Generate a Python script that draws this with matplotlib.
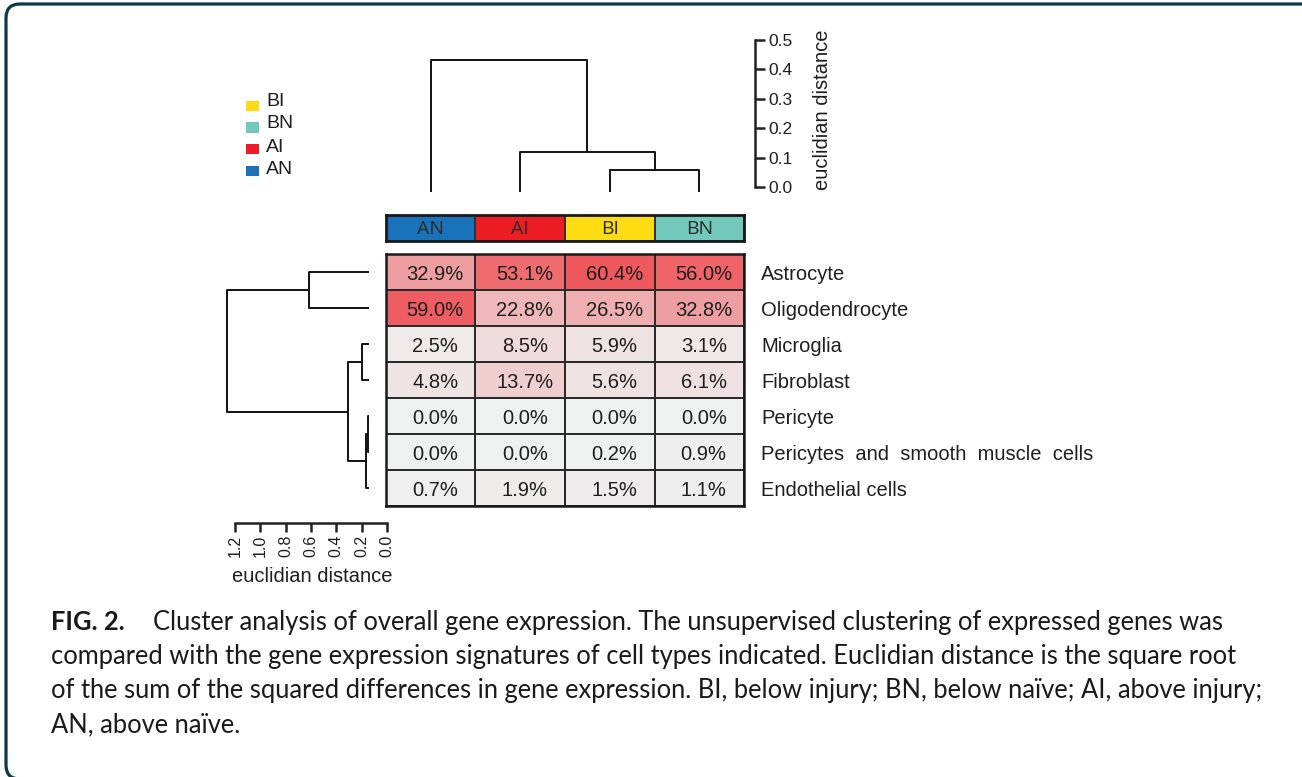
import numpy as np
import matplotlib
matplotlib.use('Agg')
import matplotlib.pyplot as plt
from matplotlib.colors import LinearSegmentedColormap, ListedColormap
from matplotlib.patches import Rectangle, FancyBboxPatch
from matplotlib.transforms import IdentityTransform

# ---------------- data ----------------
groups = ['AN', 'AI', 'BI', 'BN']
group_colors = ['#1a72ba', '#ec1d25', '#fddc14', '#72c9bb']
legend_labels = ['BI', 'BN', 'AI', 'AN']
cell_types = ['Astrocyte', 'Oligodendrocyte', 'Microglia', 'Fibroblast', 'Pericyte',
              'Pericytes  and  smooth  muscle  cells', 'Endothelial cells']
an_pct = [32.9, 59.0, 2.5, 4.8, 0.0, 0.0, 0.7]
ai_pct = [53.1, 22.8, 8.5, 13.7, 0.0, 0.0, 1.9]
bi_pct = [60.4, 26.5, 5.9, 5.6, 0.0, 0.2, 1.5]
bn_pct = [56.0, 32.8, 3.1, 6.1, 0.0, 0.9, 1.1]

# column dendrogram (leaves 0..3 = AN, AI, BI, BN; new nodes numbered from 4)
col_merge_left = [2, 1, 0]
col_merge_right = [3, 4, 5]
col_merge_height = [0.058, 0.118, 0.432]
# row dendrogram (leaves 0..6 = cell types; new nodes numbered from 7)
row_merge_left = [4, 7, 2, 9, 0, 11]
row_merge_right = [5, 6, 3, 8, 1, 10]
row_merge_height = [0.005, 0.020, 0.052, 0.166, 0.476, 1.12]

col_scale_ticks = [0.0, 0.1, 0.2, 0.3, 0.4, 0.5]
row_scale_ticks = [0.0, 0.2, 0.4, 0.6, 0.8, 1.0, 1.2]

caption_bold = 'FIG. 2.'
caption_lines = [
    'Cluster analysis of overall gene expression. The unsupervised clustering of expressed genes was',
    'compared with the gene expression signatures of cell types indicated. Euclidian distance is the square root',
    'of the sum of the squared differences in gene expression. BI, below injury; BN, below na\u00efve; AI, above injury;',
    'AN, above na\u00efve.',
]

# ---------------- layout helpers ----------------
W, H = 1302, 777
fig = plt.figure(figsize=(W / 100, H / 100), dpi=100)
fig.patch.set_facecolor('white')


def rect(x0, y0, x1, y1):
    return [x0 / W, 1 - y1 / H, (x1 - x0) / W, (y1 - y0) / H]


def dendro_segments(n_leaves, lefts, rights, heights, base=0.0):
    pos = list(np.arange(n_leaves) + 0.5)
    hgt = [base] * n_leaves
    segs = []
    for a, b, h in zip(lefts, rights, heights):
        segs.append(([pos[a], pos[a], pos[b], pos[b]], [hgt[a], h, h, hgt[b]]))
        pos.append((pos[a] + pos[b]) / 2.0)
        hgt.append(h)
    return segs


ARIAL = ['Liberation Sans', 'DejaVu Sans']
TXT = '#1e1e1e'

# ---------------- heatmap ----------------
vals = np.column_stack([an_pct, ai_pct, bi_pct, bn_pct])
cmap = LinearSegmentedColormap.from_list('greyred', ['#eff0f0', '#ee585c'])
axh = fig.add_axes(rect(386, 254, 744, 506))
axh.pcolormesh(np.arange(len(groups) + 1), np.arange(len(cell_types) + 1), vals,
               cmap=cmap, vmin=0, vmax=61, edgecolors='#2a2a2a', linewidth=1.4)
axh.set_xlim(0, len(groups))
axh.set_ylim(len(cell_types), 0)
axh.set_xticks([]); axh.set_yticks([])
for s in axh.spines.values():
    s.set_linewidth(1.8); s.set_color('#1a1a1a')
for i in range(len(cell_types)):
    for j in range(len(groups)):
        axh.text(j + 0.55, i + 0.72, f'{vals[i, j]:.1f}%', ha='center', va='baseline',
                 fontsize=14.5, family=ARIAL, color=TXT)
    axh.text(len(groups) + 17 / 89.5, i + 0.72, cell_types[i], ha='left', va='baseline',
             fontsize=14.5, family=ARIAL, color=TXT, clip_on=False)

# ---------------- group colour strip ----------------
axs = fig.add_axes(rect(386, 215, 744, 241))
axs.pcolormesh(np.arange(len(groups) + 1), [0, 1], [np.arange(len(groups))],
               cmap=ListedColormap(group_colors), vmin=-0.5, vmax=len(groups) - 0.5,
               edgecolors='#333333', linewidth=1.4)
axs.set_xlim(0, len(groups)); axs.set_ylim(0, 1)
axs.set_xticks([]); axs.set_yticks([])
for s in axs.spines.values():
    s.set_linewidth(2.0); s.set_color('#1a1a1a')
for j, g in enumerate(groups):
    axs.text(j + 0.5, 0.45, g, ha='center', va='center', fontsize=14,
             family=['Liberation Sans Narrow', 'Open Sans', 'DejaVu Sans'], color='#2a2a2a')

# ---------------- column dendrogram ----------------
px_per_unit_top = 294.0
axd = fig.add_axes(rect(386, 30, 744, 192))
ybot = -5 / px_per_unit_top
for xs, ys in dendro_segments(len(groups), col_merge_left, col_merge_right, col_merge_height, base=ybot):
    axd.plot(xs, ys, color='#111111', lw=1.4, solid_capstyle='butt')
axd.set_xlim(0, len(groups))
axd.set_ylim(ybot, 157 / px_per_unit_top)
axd.axis('off')

# top distance ruler
axr = fig.add_axes(rect(745, 40, 755, 187))
axr.set_ylim(0, 0.5)
axr.set_xlim(0, 1)
for k in ['left', 'top', 'bottom']:
    axr.spines[k].set_visible(False)
axr.spines['right'].set_linewidth(1.8)
axr.spines['right'].set_color('#222222')
axr.yaxis.tick_right()
axr.set_yticks(col_scale_ticks)
axr.set_yticklabels([f'{t:.1f}' for t in col_scale_ticks], family=ARIAL)
axr.tick_params(axis='y', direction='out', length=7, width=1.8, color='#222222',
                labelsize=12.5, pad=2.5, labelcolor=TXT)
axr.set_xticks([])
axr.patch.set_visible(False)
fig.text(823 / W, 1 - 110 / H, 'euclidian distance', rotation=90, ha='center', va='center',
         fontsize=14.5, family=ARIAL, color=TXT)

# ---------------- row dendrogram ----------------
px_per_unit_left = 126.6
axl = fig.add_axes(rect(200, 254, 369, 506))
for ys, xs in dendro_segments(len(cell_types), row_merge_left, row_merge_right, row_merge_height):
    axl.plot(xs, ys, color='#111111', lw=1.4, solid_capstyle='butt')
axl.set_xlim(169 / px_per_unit_left, 0)
axl.set_ylim(len(cell_types), 0)
axl.axis('off')

# left distance ruler
axb = fig.add_axes(rect(235, 513, 387, 523))
axb.set_xlim(1.2, 0)
axb.set_ylim(0, 1)
for k in ['left', 'top', 'right']:
    axb.spines[k].set_visible(False)
axb.spines['bottom'].set_linewidth(1.8)
axb.spines['bottom'].set_color('#222222')
axb.set_xticks(row_scale_ticks)
axb.set_xticklabels([f'{t:.1f}' for t in row_scale_ticks], rotation=90, family=ARIAL)
axb.tick_params(axis='x', direction='out', length=6.5, width=1.8, color='#222222',
                labelsize=11.5, pad=2, labelcolor=TXT)
axb.set_yticks([])
axb.patch.set_visible(False)
fig.text(312 / W, 1 - 577 / H, 'euclidian distance', ha='center', va='center',
         fontsize=14.5, family=ARIAL, color=TXT)

# ---------------- legend ----------------
color_of = dict(zip(groups, group_colors))
for i, lab in enumerate(legend_labels):
    cy = 106 + 21.5 * i
    fig.add_artist(Rectangle((246 / W, 1 - (cy + 5) / H), 13 / W, 10 / H,
                             transform=fig.transFigure, facecolor=color_of[lab], edgecolor='none'))
    fig.text(266 / W, 1 - (101 + 23 * i) / H, lab, ha='left', va='center', fontsize=14,
             family=ARIAL, color=TXT)

# ---------------- caption ----------------
CAP = ['Lato', 'DejaVu Sans']
renderer = fig.canvas.get_renderer()
probe = fig.text(0, 0, caption_lines[0], fontsize=16, family=CAP)
w16 = probe.get_window_extent(renderer=renderer).width
probe.remove()
cap_size = 16 * (1229 - 153) / w16
baselines = [630, 664, 698, 732]
fig.text(51 / W, 1 - baselines[0] / H, caption_bold, fontsize=cap_size, family=CAP,
         weight='bold', ha='left', va='baseline', color='#1a1a1a')
fig.text(153 / W, 1 - baselines[0] / H, caption_lines[0], fontsize=cap_size, family=CAP,
         ha='left', va='baseline', color='#1a1a1a')
for line, b in zip(caption_lines[1:], baselines[1:]):
    fig.text(51 / W, 1 - b / H, line, fontsize=cap_size, family=CAP,
             ha='left', va='baseline', color='#1a1a1a')

# ---------------- frame ----------------
frame = FancyBboxPatch((6, -2), 1500, 775, boxstyle='round,pad=0,rounding_size=14',
                       transform=IdentityTransform(), fill=False, edgecolor='#0b3a46', linewidth=2.3)
fig.add_artist(frame)

fig.savefig('out.png', dpi=100)
